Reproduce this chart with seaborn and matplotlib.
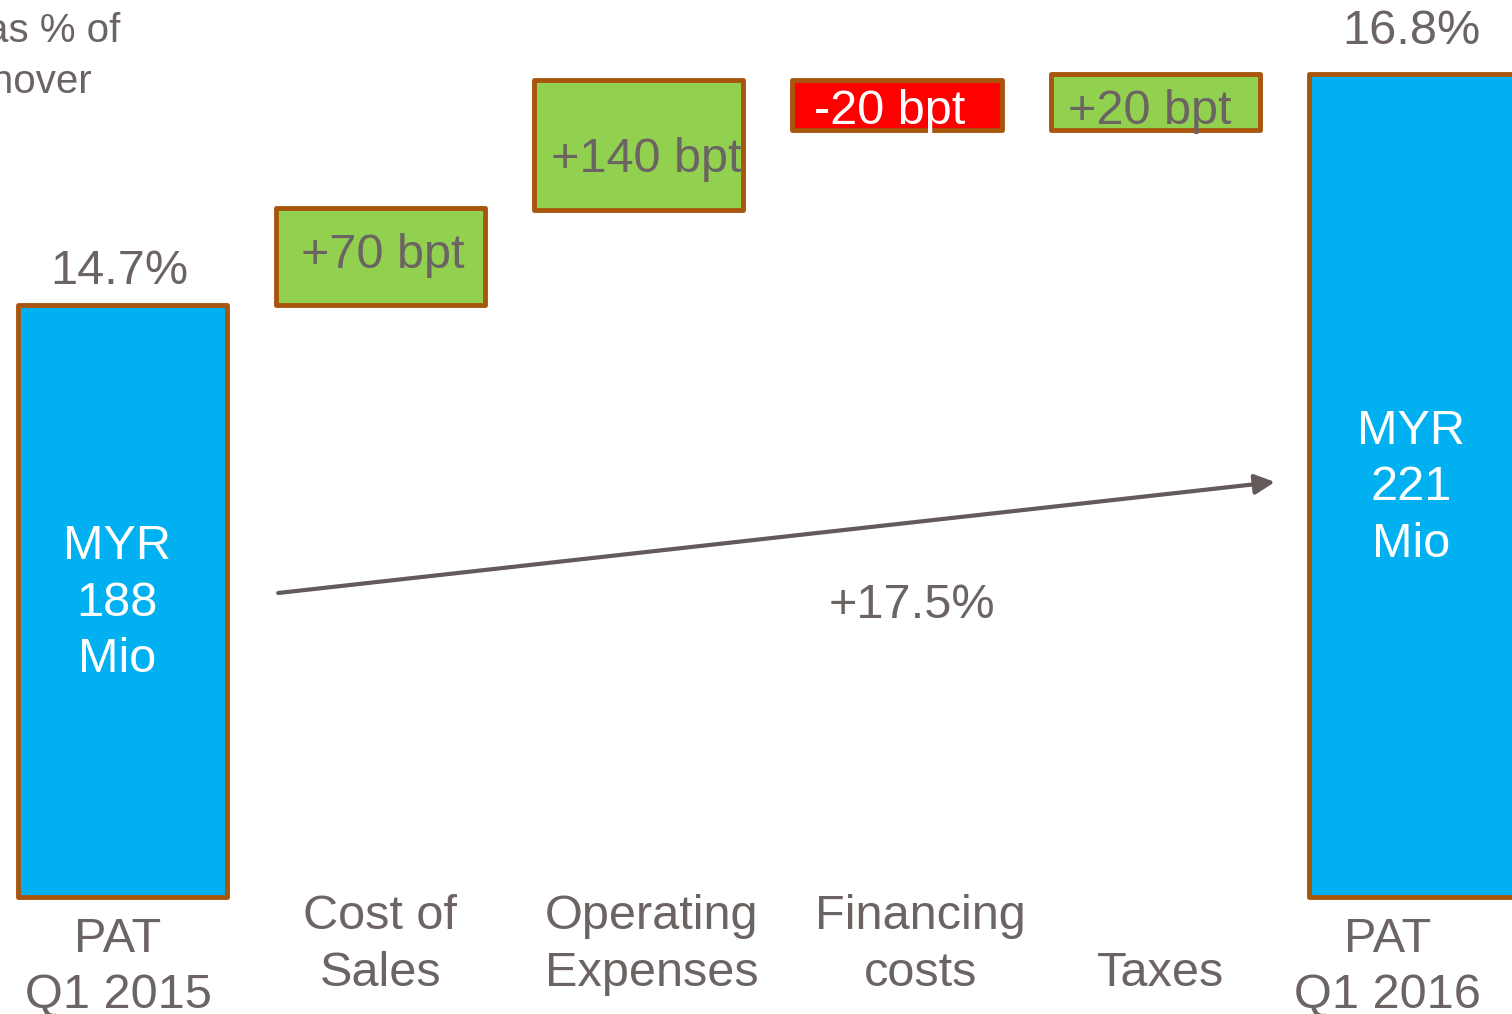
import matplotlib
matplotlib.use("Agg")
import matplotlib.pyplot as plt
import seaborn as sns
import pandas as pd

# Daten (Skala ohne Einheit, 0 = Basislinie der Balken)
categories = ["PAT\nQ1 2015", "Cost of\nSales", "Operating\nExpenses",
              "Financing\ncosts", "Taxes", "PAT\nQ1 2016"]
bar_bottom = [0, 592, 687, 767, 767, 0]
bar_top = [592, 689, 817, 817, 823, 823]
bar_kind = ["total", "up", "up", "down", "up", "total"]
bar_labels = ["14.7%", "+70 bpt", "+140 bpt", "-20 bpt", "+20 bpt", "16.8%"]
inner_labels = {0: "MYR\n188\nMio", 5: "MYR\n221\nMio"}
growth_label = "+17.5%"

kind_colors = {"total": "#00B0F0", "up": "#92D050", "down": "#FF0000"}
text_gray = "#6B6462"
edge = "#A8550D"

sns.set_style("white")
plt.rcParams["font.family"] = ["Liberation Sans", "DejaVu Sans"]

df = pd.DataFrame({
    "cat": categories,
    "height": [t - b for t, b in zip(bar_top, bar_bottom)],
})

fig = plt.figure(figsize=(15.12, 10.14), dpi=100)
ax = fig.add_axes([0, 0, 1, 1])

sns.barplot(data=df, x="cat", y="height", order=categories, bottom=bar_bottom,
            width=0.81, linewidth=3.5, edgecolor=edge, color=kind_colors["total"],
            saturation=1, ax=ax)
for patch, kind in zip(ax.patches, bar_kind):
    patch.set_facecolor(kind_colors[kind])
    patch.set_joinstyle("round")

ax.set_xlim(-0.473, 5.381)
ax.set_ylim(-117, 897)
ax.axis("off")

fs = 35
ls = 1.33

# Beschriftungen ueber / in den Balken
label_y = [626, 641, 737, 786, 786, 866]
label_dx = [-0.01, 0.01, 0.03, -0.03, -0.02, -0.01]
for i, (txt, y) in enumerate(zip(bar_labels, label_y)):
    color = "white" if bar_kind[i] == "down" else text_gray
    ax.text(i + label_dx[i], y, txt, ha="center", va="center", fontsize=fs, color=color)

inner_y = {0: 294, 5: 409}
inner_dx = {0: -0.02, 5: -0.01}
for i, txt in inner_labels.items():
    ax.text(i + inner_dx[i], inner_y[i], txt, ha="center", va="center", fontsize=fs,
            color="white", linespacing=ls)

# Kategorien unter den Balken
cat_y = [-70.5, -48, -48, -48, -76.5, -70.5]
cat_dx = [-0.016, 0.0, 0.05, 0.09, 0.02, -0.1]
for i, (txt, y) in enumerate(zip(categories, cat_y)):
    ax.text(i + cat_dx[i], y, txt, ha="center", va="center", fontsize=fs,
            color=text_gray, linespacing=ls)

# Titel oben links (teilweise abgeschnitten)
ax.text(-0.0085, 855, "as % of", ha="right", va="baseline", fontsize=29, color=text_gray)
ax.text(-0.117, 804, "turnover", ha="right", va="baseline", fontsize=29, color=text_gray)

# Wachstumspfeil
ax.annotate("", xy=(4.463, 415), xytext=(0.604, 304),
            arrowprops=dict(arrowstyle="-|>", color="#635B5A", lw=3,
                            mutation_scale=30, shrinkA=0, shrinkB=0))
ax.text(3.058, 291, growth_label, ha="center", va="center", fontsize=fs, color=text_gray)

fig.savefig("out.png", dpi=100)
